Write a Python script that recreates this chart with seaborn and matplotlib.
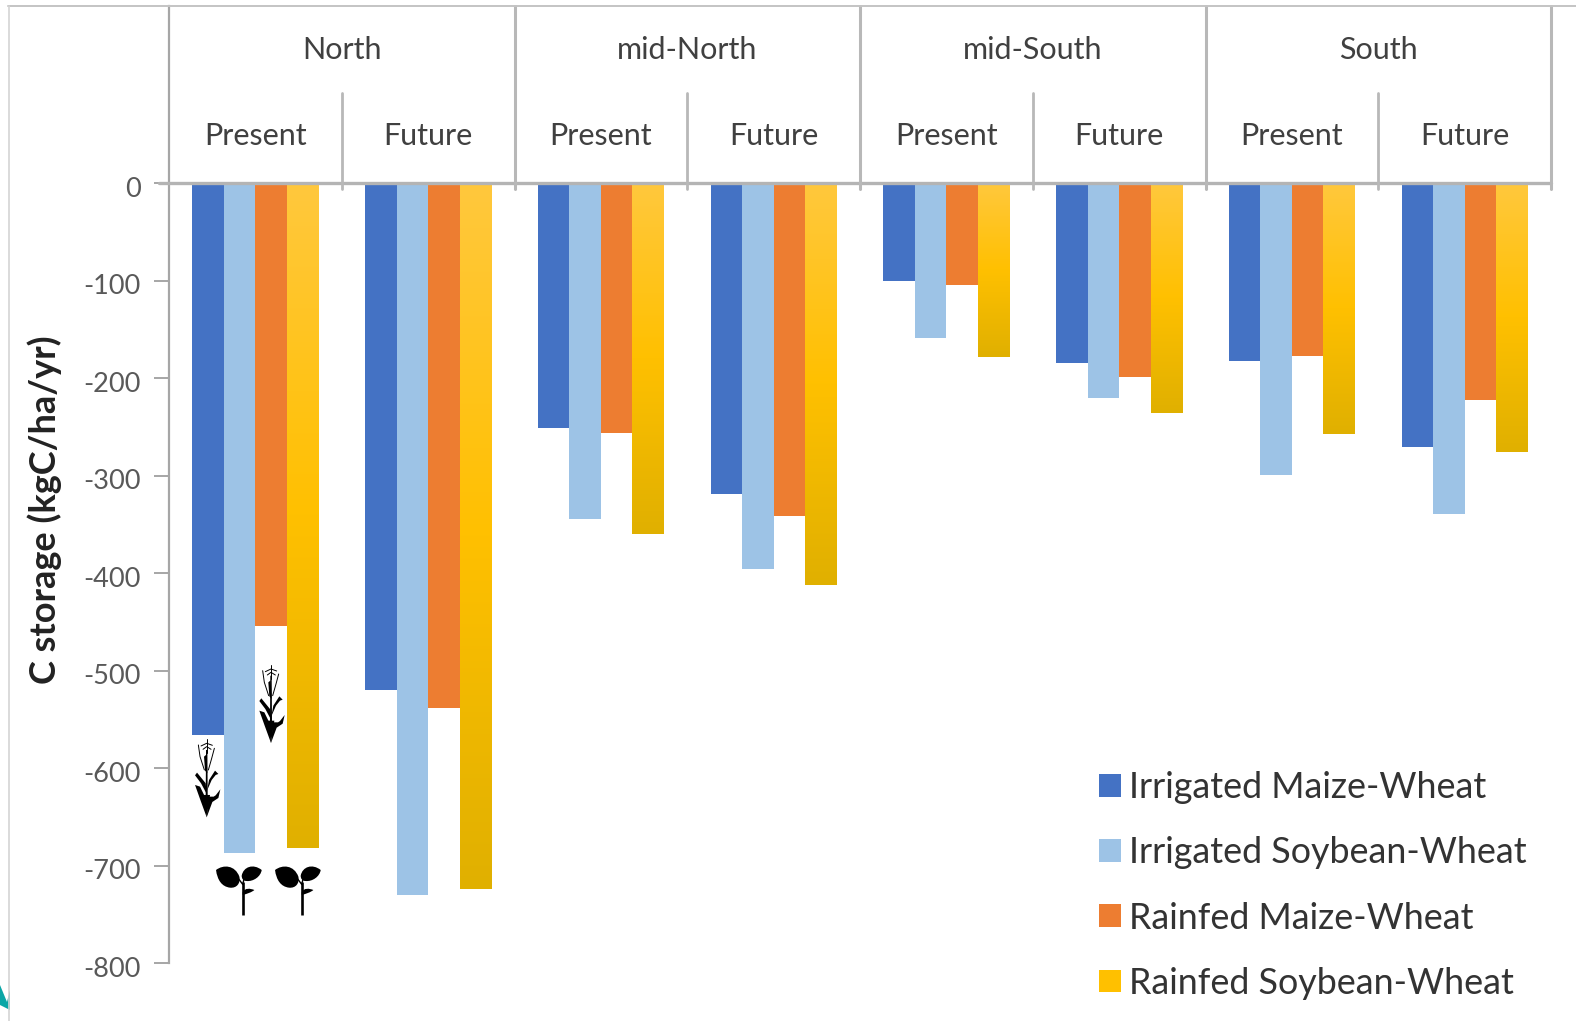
import numpy as np
import pandas as pd
import matplotlib
matplotlib.use("Agg")
import matplotlib.pyplot as plt
import seaborn as sns
from matplotlib.colors import LinearSegmentedColormap
from matplotlib.patches import Polygon, PathPatch
from matplotlib.path import Path
from matplotlib.transforms import ScaledTranslation

regions = ["North", "mid-North", "mid-South", "South"]
periods = ["Present", "Future"]
series = ["Irrigated Maize-Wheat", "Irrigated Soybean-Wheat",
          "Rainfed Maize-Wheat", "Rainfed Soybean-Wheat"]
irr_maize = [-566, -520, -251, -319, -100, -184, -182, -271]
irr_soy = [-687, -730, -344, -396, -159, -220, -299, -339]
rain_maize = [-454, -538, -256, -341, -104, -199, -177, -222]
rain_soy = [-682, -724, -360, -412, -178, -236, -257, -276]
yticks = [0, -100, -200, -300, -400, -500, -600, -700, -800]
palette = ["#4472C4", "#9DC3E6", "#ED7D31", "#FFC000"]

sns.set_theme(style="white")
plt.rcParams["font.family"] = ["Lato", "DejaVu Sans"]
plt.rcParams["axes.unicode_minus"] = False

W, H = 1576, 1021
fig = plt.figure(figsize=(W / 100, H / 100), dpi=100)
ax = fig.add_axes([169 / W, 1 - 963 / H, (1551 - 169) / W, (963 - 6) / H])

slots = [f"{r}|{p}" for r in regions for p in periods]
rows = []
for name, vals in zip(series, [irr_maize, irr_soy, rain_maize, rain_soy]):
    for s, v in zip(slots, vals):
        rows.append({"slot": s, "series": name, "value": v})
df = pd.DataFrame(rows)

sns.barplot(data=df, x="slot", y="value", hue="series", hue_order=series,
            order=slots, palette=palette, width=0.728, gap=0, saturation=1,
            errorbar=None, ax=ax, linewidth=0)

ax.set_xlim(-0.5, 7.5)
ylo, yhi = -800, 182
ax.set_ylim(ylo, yhi)

# gradient on the rainfed soybean bars
cmap = LinearSegmentedColormap.from_list("y", ["#FFC83D", "#FFC000", "#E0B000"])
grad = np.linspace(0, 1, 256).reshape(-1, 1)
for bar in ax.containers[3]:
    x0, w, h = bar.get_x(), bar.get_width(), bar.get_height()
    ax.imshow(grad, cmap=cmap, aspect="auto", extent=(x0, x0 + w, h, 0),
              zorder=bar.get_zorder() + 0.1, interpolation="bilinear")
ax.set_xlim(-0.5, 7.5)
ax.set_ylim(ylo, yhi)

ax.set_xlabel("")
ax.set_xticks([])
ax.set_yticks(yticks)
ax.tick_params(axis="y", length=10.5, width=1.4, color="#a6a6a6", left=True, pad=10,
               labelsize=19.5, labelcolor="#595959")
shift = ScaledTranslation(0, -3.5 / 100, fig.dpi_scale_trans)
for lab in ax.get_yticklabels():
    lab.set_transform(lab.get_transform() + shift)
ax.set_ylabel("C storage (kgC/ha/yr)", fontsize=26, fontweight="bold", color="#222222",
              labelpad=0, va="center")
ax.yaxis.set_label_coords((45 - 169) / (1551 - 169), 1 - (510 - 6) / (963 - 6))
for s in ["right", "bottom", "top"]:
    ax.spines[s].set_visible(False)
ax.spines["left"].set_color("#a6a6a6")
ax.spines["left"].set_linewidth(1.6)

ax.plot([-0.56, 7.5], [0, 0], color="#b4b4b4", lw=2.4, clip_on=False, zorder=5)
for i in range(1, 9, 2):
    ax.plot([i - 0.5, i - 0.5], [-6, 93], color="#b8b8b8", lw=2, zorder=5)
for i in range(2, 9, 2):
    ax.plot([i - 0.5, i - 0.5], [-6, yhi], color="#b8b8b8", lw=2.2, zorder=5, clip_on=False)

for i, r in enumerate(regions):
    ax.text(2 * i + 0.5, 137, r, ha="center", va="center", fontsize=22, color="#404040")
    for j, p in enumerate(periods):
        ax.text(2 * i + j, 49, p, ha="center", va="center", fontsize=22, color="#404040")

handles, labels = ax.get_legend_handles_labels()
ax.legend(handles, labels, loc="upper left", frameon=False, fontsize=25.8,
          bbox_to_anchor=(1099 / W, 1 - 771 / H), bbox_transform=fig.transFigure,
          handlelength=0.6, handleheight=0.6, handletextpad=0.25, labelspacing=0.90,
          labelcolor="#333333", borderpad=0, borderaxespad=0)

# overlay in pixel coordinates for the frame and the crop pictograms
ov = fig.add_axes([0, 0, 1, 1], facecolor="none")
ov.set_xlim(0, W)
ov.set_ylim(H, 0)
ov.axis("off")
ov.plot([8, 1576], [6, 6], color="#c4c4c4", lw=1.4)
ov.plot([9, 9], [6, H], color="#d4d4d4", lw=1.2)
ov.add_patch(Polygon([(0, 985), (7, 1002), (10, 990), (10, 1010), (0, 1005)], color="#0aa6a6", lw=0))


def soybean(cx, top):
    def T(p):
        return [(cx + (x - 98) / 3, top + (y - 30) / 3) for x, y in p]
    curve = lambda n: [Path.MOVETO] + [Path.CURVE4] * (n - 1)
    left = T([(18, 45), (40, 28), (75, 30), (88, 65), (92, 85), (80, 100), (60, 98),
              (35, 95), (22, 75), (18, 45)])
    right = T([(95, 62), (100, 35), (130, 25), (155, 45), (152, 65), (130, 80), (110, 78),
               (100, 78), (95, 72), (95, 62)])
    small = T([(98, 112), (105, 98), (120, 100), (133, 105), (125, 112), (112, 116), (98, 120)])
    for pts in (left, right, small):
        ov.add_patch(PathPatch(Path(pts, curve(len(pts))), fc="black", ec="none"))
    ov.plot(*zip(*T([(98, 80), (98, 180)])), color="black", lw=1.9, solid_capstyle="butt")
    ov.plot(*zip(*T([(98, 88), (86, 72)])), color="black", lw=1.0)
    ov.plot(*zip(*T([(98, 88), (102, 72)])), color="black", lw=1.0)


def maize(cx, top):
    def T(p):
        return [(cx + (x - 65) / 3, top + (y - 28) / 3) for x, y in p]
    polys = [
        [(63, 60), (67, 60), (68, 200), (62, 200)],
        [(57, 80), (64, 74), (67, 130), (60, 122)],
        [(30, 136), (36, 128), (62, 160), (65, 192), (48, 160)],
        [(100, 132), (90, 122), (72, 150), (66, 182), (80, 150), (92, 135)],
        [(30, 165), (45, 170), (62, 205), (65, 262), (46, 210)],
        [(55, 195), (75, 195), (65, 262)],
        [(106, 178), (100, 204), (82, 216), (65, 262), (71, 200), (86, 200), (92, 196)],
    ]
    for p in polys:
        ov.add_patch(Polygon(T(p), fc="black", ec="none"))
    for line in [[(40, 45), (45, 80), (58, 120)],
                 [(88, 55), (80, 85), (70, 120)],
                 [(65, 28), (65, 70)],
                 [(48, 48), (65, 40), (82, 46)],
                 [(54, 58), (65, 50), (78, 58)]]:
        ov.plot(*zip(*T(line)), color="black", lw=0.7)


maize(206.7, 739.3)
maize(271, 665)
soybean(242.7, 865)
soybean(301.7, 865)

fig.savefig("out.png", dpi=100, facecolor="white")
